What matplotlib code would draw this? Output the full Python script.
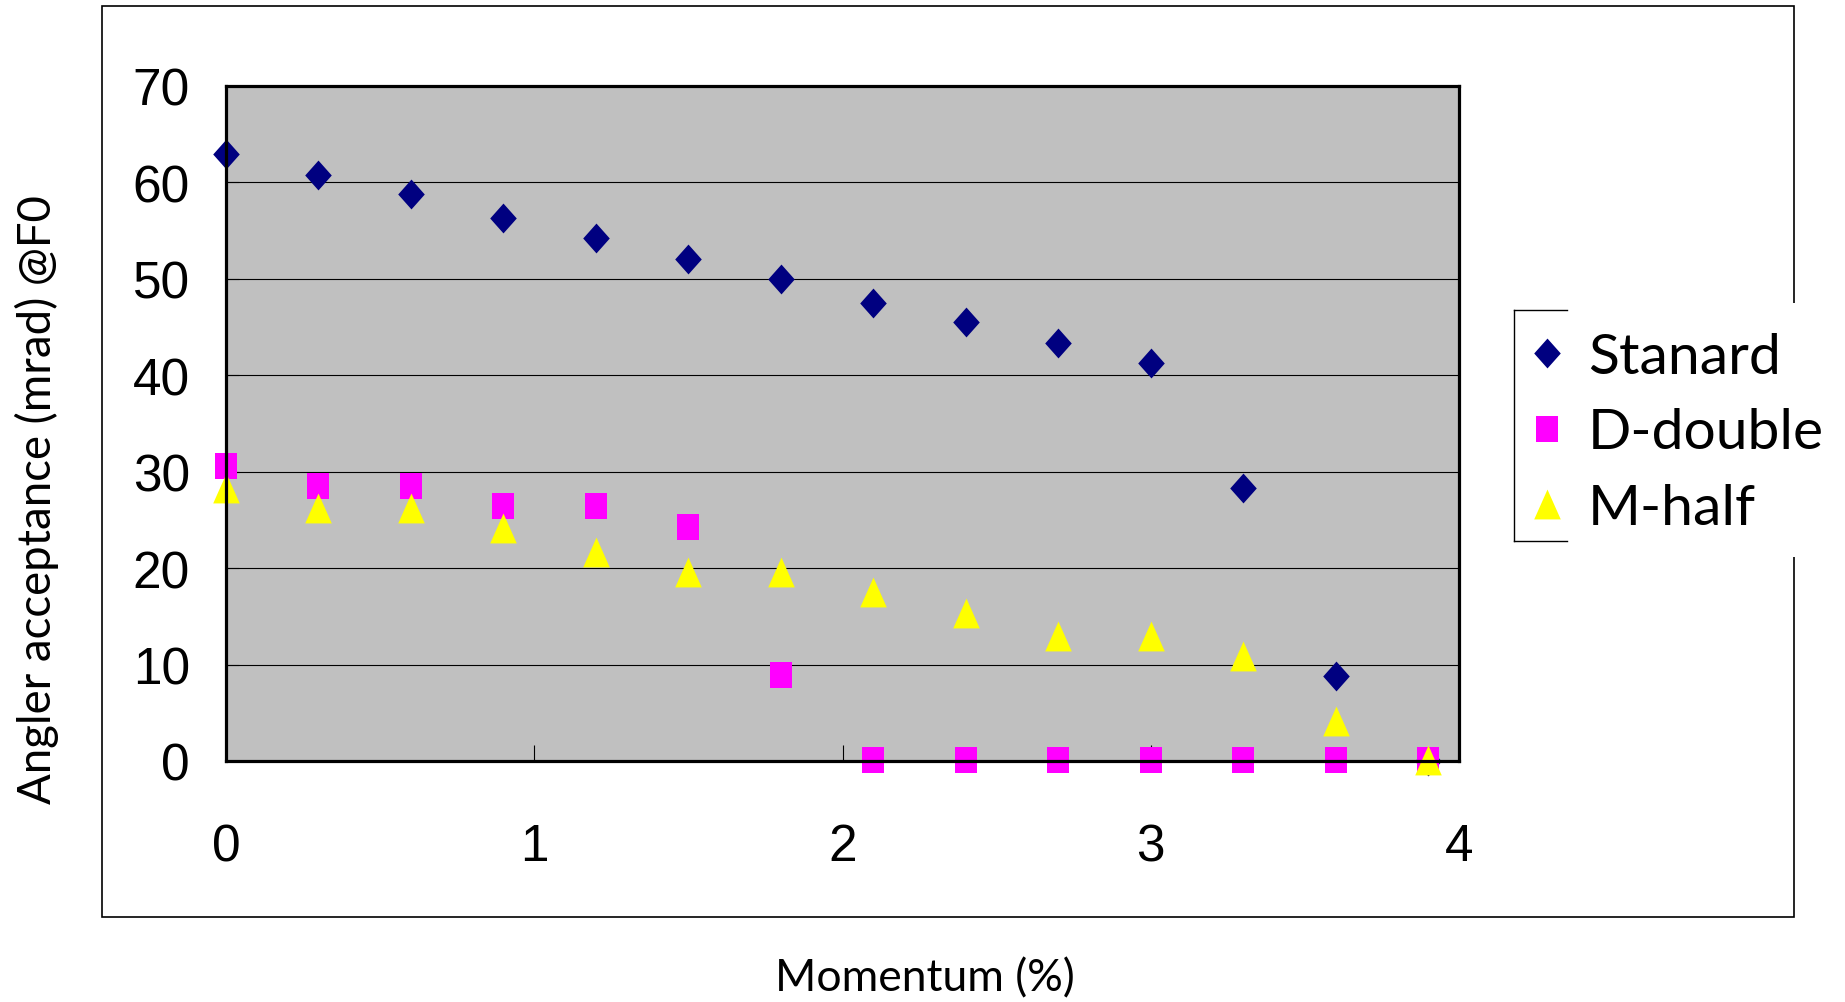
import matplotlib
matplotlib.use('Agg')
import matplotlib.pyplot as plt
from matplotlib import font_manager
from matplotlib.patches import Rectangle
from matplotlib.lines import Line2D

# momentum (%) and angular acceptance (mrad)
momentum = [0.0, 0.3, 0.6, 0.9, 1.2, 1.5, 1.8, 2.1, 2.4, 2.7, 3.0, 3.3, 3.6, 3.9]
standard = [62.9, 60.8, 58.8, 56.3, 54.2, 52.1, 50.0, 47.5, 45.5, 43.4, 41.3, 28.3, 8.8, 0.0]
d_double = [30.6, 28.5, 28.5, 26.4, 26.4, 24.3, 8.9, 0.1, 0.1, 0.1, 0.1, 0.1, 0.1, 0.1]
m_half = [28.3, 26.2, 26.2, 24.2, 21.7, 19.6, 19.6, 17.5, 15.4, 13.0, 13.0, 10.9, 4.1, 0.1]
series_names = ['Stanard', 'D-double', 'M-half']
x_ticks = [0, 1, 2, 3, 4]
y_ticks = [0, 10, 20, 30, 40, 50, 60, 70]

names = {f.name for f in font_manager.fontManager.ttflist}
narrow = 'Liberation Sans Narrow' if 'Liberation Sans Narrow' in names else 'Liberation Sans'
label_font = 'Lato' if 'Lato' in names else 'DejaVu Sans'

# markers slightly taller than wide, like the original Excel chart
diamond = [(0, 1), (0.89, 0), (0, -1), (-0.89, 0)]
square = [(-0.85, -1), (0.85, -1), (0.85, 1), (-0.85, 1)]
triangle = [(0, 1), (0.89, -1), (-0.89, -1)]

fig = plt.figure(figsize=(18.45, 10.03), dpi=100)
ax = fig.add_axes([226 / 1845, 1 - 762 / 1003, (1459 - 226) / 1845, (762 - 87) / 1003])
ax.set_facecolor('#C0C0C0')

ax.plot(momentum, standard, linestyle='none', marker=diamond, markersize=21.5,
        color='#000080', markeredgewidth=0, clip_on=False, zorder=3, label=series_names[0])
ax.plot(momentum, d_double, linestyle='none', marker=square, markersize=18.5,
        color='#FF00FF', markeredgewidth=0, clip_on=False, zorder=4, label=series_names[1])
ax.plot(momentum, m_half, linestyle='none', marker=triangle, markersize=21.5,
        color='#FFFF00', markeredgewidth=0, clip_on=False, zorder=5, label=series_names[2])

ax.set_xlim(0, 4)
ax.set_ylim(0, 70)
ax.set_xticks(x_ticks)
ax.set_yticks(y_ticks)
ax.yaxis.grid(True, color='black', linewidth=0.8)
ax.set_axisbelow(True)
for s in ax.spines.values():
    s.set_linewidth(2.3)
    s.set_zorder(6)
ax.tick_params(axis='x', direction='in', length=11.5, width=0.8, pad=44,
               labelsize=37, labelfontfamily=narrow)
ax.tick_params(axis='y', direction='in', length=9, width=0.8, pad=26,
               labelsize=37, labelfontfamily=narrow)

fig.text(37 / 1845, 1 - 500 / 1003, 'Angler acceptance (mrad) @F0', rotation=90,
         ha='center', va='center', fontsize=32.8, family=label_font)
fig.text(925 / 1845, 1 - 979 / 1003, 'Momentum (%)', ha='center', va='center',
         fontsize=32, family=label_font)

# outer chart border
fig.add_artist(Rectangle((102 / 1845, 1 - 918 / 1003), (1794 - 102) / 1845, (918 - 7) / 1003,
                         fill=False, edgecolor='black', linewidth=1.2, zorder=1))
# legend background hides a piece of the border, frame only partly drawn
fig.add_artist(Rectangle((1514 / 1845, 1 - 558 / 1003), (1845 - 1514) / 1845, (558 - 304) / 1003,
                         facecolor='white', edgecolor='none', zorder=2))
lx0, lx1 = 1514 / 1845, 1567 / 1845
ly0, ly1 = 1 - 311 / 1003, 1 - 542 / 1003
for xs, ys in [([lx0, lx1], [ly0, ly0]), ([lx0, lx0], [ly0, ly1]), ([lx0, lx1], [ly1, ly1])]:
    fig.add_artist(Line2D(xs, ys, color='black', linewidth=1.0, zorder=3))

leg = fig.legend(loc='center left', bbox_to_anchor=(1521 / 1845, 1 - 434 / 1003),
                 frameon=False, prop={'family': label_font, 'size': 41},
                 handlelength=0.9, handletextpad=0.28, labelspacing=0.43,
                 borderpad=0, borderaxespad=0, markerscale=1.0)
leg.set_zorder(4)

fig.savefig('out.png', dpi=100)
